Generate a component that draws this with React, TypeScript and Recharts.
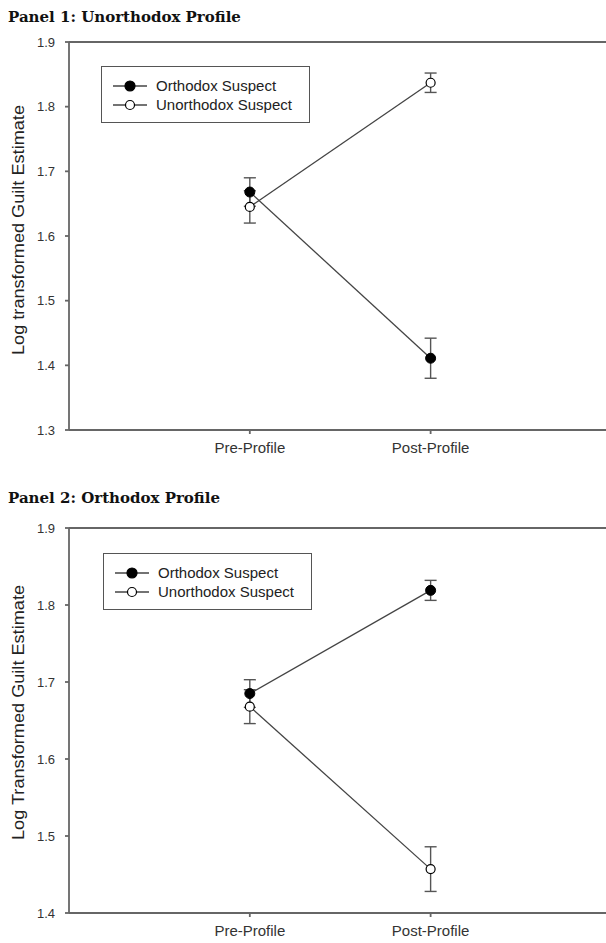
import React from 'react';
import { LineChart, Line, XAxis, YAxis, ErrorBar, ReferenceLine, Legend } from 'recharts';

// --- data ---
const phases = ['Pre-Profile', 'Post-Profile'];
const phaseX = [1, 2];

// Panel 1: Unorthodox Profile
const p1Orthodox = [1.668, 1.411];
const p1OrthodoxErr = [0.022, 0.031];
const p1Unorthodox = [1.645, 1.837];
const p1UnorthodoxErr = [0.025, 0.015];
const p1Ticks = [1.3, 1.4, 1.5, 1.6, 1.7, 1.8, 1.9];

// Panel 2: Orthodox Profile
const p2Orthodox = [1.685, 1.819];
const p2OrthodoxErr = [0.018, 0.013];
const p2Unorthodox = [1.668, 1.457];
const p2UnorthodoxErr = [0.022, 0.029];
const p2Ticks = [1.4, 1.5, 1.6, 1.7, 1.8, 1.9];

const seriesNames = ['Orthodox Suspect', 'Unorthodox Suspect'];

const AXIS = '#666';
const SANS = '"Liberation Sans", Arial, sans-serif';

function buildRows(orth: number[], orthErr: number[], unorth: number[], unorthErr: number[]) {
  return phases.map((name, i) => ({
    x: phaseX[i],
    name,
    orth: orth[i],
    orthErr: orthErr[i],
    unorth: unorth[i],
    unorthErr: unorthErr[i],
  }));
}

const panel1 = buildRows(p1Orthodox, p1OrthodoxErr, p1Unorthodox, p1UnorthodoxErr);
const panel2 = buildRows(p2Orthodox, p2OrthodoxErr, p2Unorthodox, p2UnorthodoxErr);

function LegendBox() {
  const rows = [
    { label: seriesNames[0], fill: '#000', r: 5 },
    { label: seriesNames[1], fill: '#fff', r: 4.5 },
  ];
  return (
    <div
      style={{
        position: 'relative',
        width: 209,
        height: 57,
        boxSizing: 'border-box',
        border: '1.5px solid #555',
        background: '#fff',
      }}
    >
      {rows.map((row, i) => (
        <div key={row.label} style={{ position: 'absolute', left: 0, top: 19 * (i + 1) - 9, height: 18, width: '100%' }}>
          <svg width={50} height={18} style={{ position: 'absolute', left: 10, top: 0 }}>
            <line x1={1} y1={9} x2={35} y2={9} stroke="#444" strokeWidth={1.3} />
            <circle cx={18} cy={9} r={row.r} fill={row.fill} stroke="#000" strokeWidth={1.2} />
          </svg>
          <span
            style={{
              position: 'absolute',
              left: 54,
              top: 0,
              lineHeight: '18px',
              fontFamily: SANS,
              fontSize: 15,
              color: '#222',
              whiteSpace: 'nowrap',
            }}
          >
            {row.label}
          </span>
        </div>
      ))}
    </div>
  );
}

function yLabel(text: string, length: number, shift: number) {
  return (props: any) => {
    const vb = props.viewBox || {};
    const cx = 18;
    const cy = (vb.y ?? 0) + (vb.height ?? 0) / 2 + shift;
    return (
      <text
        x={cx}
        y={cy}
        transform={`rotate(-90, ${cx}, ${cy})`}
        textAnchor="middle"
        dominantBaseline="central"
        fontFamily={SANS}
        fontSize={17}
        fill="#222"
        textLength={length}
        lengthAdjust="spacingAndGlyphs"
      >
        {text}
      </text>
    );
  };
}

type PanelProps = {
  data: ReturnType<typeof buildRows>;
  ticks: number[];
  domain: [number, number];
  label: string;
  labelLength: number;
  labelShift: number;
  height: number;
  marginTop: number;
  marginBottom: number;
  legendLeft: number;
  legendTop: number;
};

function Panel(p: PanelProps) {
  return (
    <LineChart
      width={606}
      height={p.height}
      data={p.data}
      margin={{ top: p.marginTop, right: 0, bottom: p.marginBottom, left: 0 }}
    >
      <XAxis
        type="number"
        dataKey="x"
        domain={[0, 2.97]}
        ticks={phaseX}
        tickFormatter={(v: number) => phases[v - 1]}
        height={30}
        tickSize={4}
        tickMargin={8}
        stroke={AXIS}
        strokeWidth={1.8}
        tick={{ fill: '#333', fontSize: 15, fontFamily: SANS }}
      />
      <YAxis
        type="number"
        domain={p.domain}
        ticks={p.ticks}
        tickFormatter={(v: number) => v.toFixed(1)}
        width={69}
        tickSize={4}
        tickMargin={10}
        stroke={AXIS}
        strokeWidth={1.8}
        tick={{ fill: '#333', fontSize: 13, fontFamily: SANS }}
        label={{ content: yLabel(p.label, p.labelLength, p.labelShift) }}
      />
      <ReferenceLine y={p.domain[1]} stroke={AXIS} strokeWidth={2} />
      <Legend
        layout="vertical"
        align="center"
        verticalAlign="middle"
        wrapperStyle={{ left: p.legendLeft, top: p.legendTop, width: 209 }}
        content={() => <LegendBox />}
      />
      <Line
        dataKey="orth"
        name={seriesNames[0]}
        stroke="#444"
        strokeWidth={1.3}
        dot={{ r: 5, fill: '#000', stroke: '#000', strokeWidth: 1 }}
        isAnimationActive={false}
      >
        <ErrorBar dataKey="orthErr" direction="y" width={6} stroke="#555" strokeWidth={1.4} isAnimationActive={false} />
      </Line>
      <Line
        dataKey="unorth"
        name={seriesNames[1]}
        stroke="#444"
        strokeWidth={1.3}
        dot={{ r: 4.5, fill: '#fff', stroke: '#000', strokeWidth: 1.2 }}
        isAnimationActive={false}
      >
        <ErrorBar dataKey="unorthErr" direction="y" width={6} stroke="#555" strokeWidth={1.4} isAnimationActive={false} />
      </Line>
    </LineChart>
  );
}

const titleStyle: React.CSSProperties = {
  position: 'absolute',
  left: 8,
  fontFamily: '"DejaVu Serif", serif',
  fontWeight: 'bold',
  fontSize: 15,
  color: '#111',
  whiteSpace: 'nowrap',
  lineHeight: '18px',
};

export default function App() {
  return (
    <div style={{ position: 'relative', width: 606, height: 943, background: '#fff', overflow: 'hidden' }}>
      <style>{'body{margin:0}'}</style>
      <div style={{ ...titleStyle, top: 8 }}>Panel 1: Unorthodox Profile</div>
      <div style={{ position: 'absolute', left: 0, top: 0 }}>
        <Panel
          data={panel1}
          ticks={p1Ticks}
          domain={[1.3, 1.9]}
          label="Log transformed Guilt Estimate"
          labelLength={250}
          labelShift={-6}
          height={470}
          marginTop={42}
          marginBottom={10}
          legendLeft={101}
          legendTop={66}
        />
      </div>
      <div style={{ ...titleStyle, top: 489 }}>Panel 2: Orthodox Profile</div>
      <div style={{ position: 'absolute', left: 0, top: 480 }}>
        <Panel
          data={panel2}
          ticks={p2Ticks}
          domain={[1.4, 1.9]}
          label="Log Transformed Guilt Estimate"
          labelLength={255}
          labelShift={-8}
          height={463}
          marginTop={48}
          marginBottom={0}
          legendLeft={103}
          legendTop={73}
        />
      </div>
    </div>
  );
}
